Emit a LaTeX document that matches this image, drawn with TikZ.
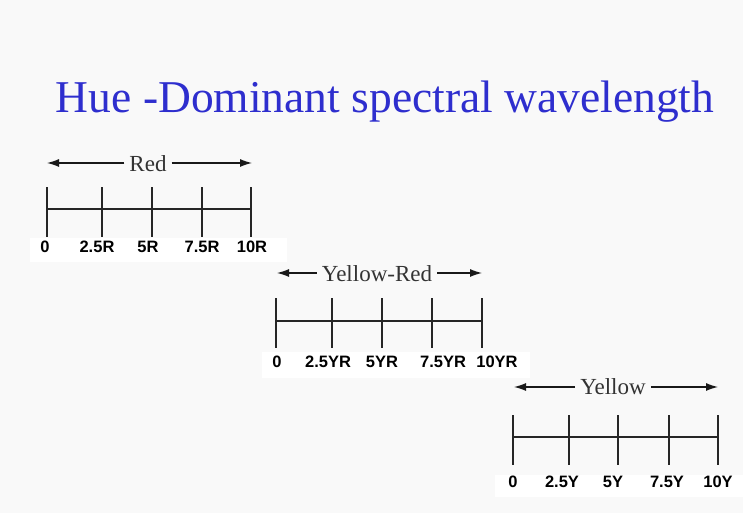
\documentclass[tikz,border=0pt]{standalone}
\usepackage{fontspec}
\setmainfont{Liberation Serif}
\setsansfont{Liberation Sans}
\usetikzlibrary{arrows.meta}
\definecolor{bgc}{RGB}{249,249,249}
\definecolor{titleblue}{RGB}{46,46,206}
\tikzset{
  tickline/.style={line width=1.5pt, black!85},
  axisline/.style={line width=1.3pt, black!85},
  rangearrow/.style={line width=1.2pt, black!90, -{Latex[length=12pt,width=8pt]}},
  rangetext/.style={font=\fontsize{23}{23}\selectfont, text=black!80, inner xsep=5pt, inner ysep=0pt, anchor=base},
  ticklabel/.style={font=\sffamily\bfseries\fontsize{16.5}{16.5}\selectfont, inner sep=0pt, anchor=base},
  labelband/.style={fill=white, draw=none},
  titletext/.style={font=\fontsize{45.5}{45.5}\selectfont, text=titleblue, inner sep=0pt, anchor=base}
}
\begin{document}
\begin{tikzpicture}[x=1pt,y=1pt]
\fill[bgc] (0,0) rectangle (743,513);
\useasboundingbox (0,0) rectangle (743,513);

% white bands behind tick labels
\fill[labelband] (30,251) rectangle (287,275);
\fill[labelband] (262,135) rectangle (530,161);
\fill[labelband] (495,16) rectangle (743,38);

% title
\node[titletext] (title) at (385,400) {Hue -Dominant spectral wavelength};

% ---------- Red scale ----------
\foreach \x [count=\i] in {47,102,152,202,251} {
  \coordinate (rt\i) at (\x,326);
  \coordinate (rb\i) at (\x,276);
  \coordinate (rm\i) at (\x,304);
  \draw[tickline] (rb\i) -- (rt\i);
}
\draw[axisline] (rm1) -- (rm5);
\foreach \x/\t [count=\i] in {45/0,97/2.5R,148/5R,202/7.5R,252/10R}
  \node[ticklabel] (rl\i) at (\x,260) {\t};
\coordinate (ra1) at (47,350);
\coordinate (ra2) at (252,350);
\node[rangetext] (redtxt) at (148,341) {Red};
\draw[rangearrow] (ra1 -| redtxt.west) -- (ra1);
\draw[rangearrow] (ra2 -| redtxt.east) -- (ra2);

% ---------- Yellow-Red scale ----------
\foreach \x [count=\i] in {276,332,382,432,482} {
  \coordinate (yrt\i) at (\x,215);
  \coordinate (yrb\i) at (\x,165);
  \coordinate (yrm\i) at (\x,192);
  \draw[tickline] (yrb\i) -- (yrt\i);
}
\draw[axisline] (yrm1) -- (yrm5);
\foreach \x/\t [count=\i] in {277/0,328/2.5YR,382/5YR,443/7.5YR,497/10YR}
  \node[ticklabel] (yrl\i) at (\x,145) {\t};
\coordinate (yra1) at (277,240);
\coordinate (yra2) at (482,240);
\node[rangetext] (yrtxt) at (377,231) {Yellow-Red};
\draw[rangearrow] (yra1 -| yrtxt.west) -- (yra1);
\draw[rangearrow] (yra2 -| yrtxt.east) -- (yra2);

% ---------- Yellow scale ----------
\foreach \x [count=\i] in {513,569,618,669,718} {
  \coordinate (yt\i) at (\x,98);
  \coordinate (yb\i) at (\x,48);
  \coordinate (ym\i) at (\x,76);
  \draw[tickline] (yb\i) -- (yt\i);
}
\draw[axisline] (ym1) -- (ym5);
\foreach \x/\t [count=\i] in {513/0,562/2.5Y,613/5Y,667/7.5Y,718/10Y}
  \node[ticklabel] (yl\i) at (\x,25) {\t};
\coordinate (ya1) at (514,126);
\coordinate (ya2) at (718,126);
\node[rangetext] (ytxt) at (613,118) {Yellow};
\draw[rangearrow] (ya1 -| ytxt.west) -- (ya1);
\draw[rangearrow] (ya2 -| ytxt.east) -- (ya2);
\end{tikzpicture}
\end{document}
